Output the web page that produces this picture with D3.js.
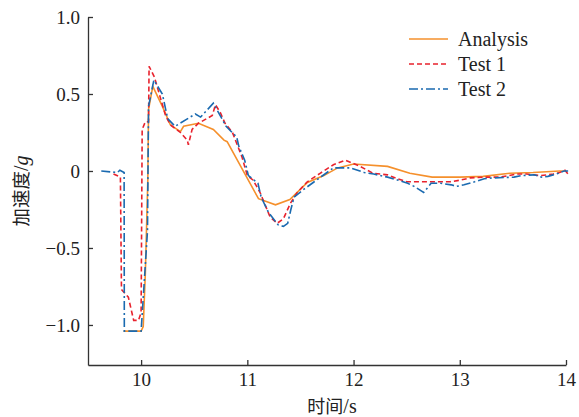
<!DOCTYPE html>
<html>
<head>
<meta charset="utf-8">
<script src="https://cdn.jsdelivr.net/npm/d3@7"></script>
<style>
  body { margin: 0; background: #fff; }
  text { font-family: "Liberation Serif", "Times New Roman", serif; fill: #222; }
  .cjk { font-family: "Noto Sans CJK SC", sans-serif; }
</style>
</head>
<body>
<svg width="579" height="417"></svg>
<script>
var svg = d3.select("svg");

// series: [time (s), acceleration (g)]
var analysis = [
  [9.835,-1.04],[10.0,-1.04],[10.02,-1.01],[10.04,-0.66],[10.055,-0.27],[10.063,-0.06],
  [10.07,0.40],[10.11,0.55],[10.20,0.42],[10.275,0.30],[10.37,0.255],[10.40,0.29],
  [10.54,0.31],[10.68,0.27],[10.78,0.20],[10.81,0.19],[11.105,-0.18],[11.265,-0.22],
  [11.40,-0.185],[11.565,-0.075],[11.72,-0.03],[11.85,0.02],[12.0,0.045],[12.32,0.03],
  [12.53,-0.015],[12.74,-0.04],[13.0,-0.04],[13.22,-0.035],[13.47,-0.015],[13.69,-0.01],
  [13.94,0.0],[13.99,0.0]
];
var test1 = [
  [9.74,-0.02],[9.805,-0.04],[9.815,-0.77],[9.88,-0.82],[9.93,-0.97],[9.975,-0.97],
  [10.0,-0.92],[10.01,0.27],[10.04,0.32],[10.07,0.32],[10.075,0.68],[10.125,0.61],
  [10.23,0.36],[10.275,0.30],[10.37,0.25],[10.435,0.20],[10.445,0.17],[10.48,0.27],
  [10.54,0.31],[10.67,0.36],[10.70,0.43],[10.745,0.38],[10.79,0.31],[10.86,0.25],
  [10.95,0.09],[11.0,-0.03],[11.055,-0.06],[11.12,-0.14],[11.215,-0.30],[11.28,-0.34],
  [11.34,-0.31],[11.405,-0.21],[11.47,-0.14],[11.565,-0.07],[11.685,-0.015],[11.81,0.04],
  [11.92,0.07],[11.995,0.05],[12.06,0.03],[12.185,-0.015],[12.32,-0.025],[12.41,-0.05],
  [12.505,-0.07],[12.75,-0.07],[12.91,-0.07],[13.0,-0.06],[13.1,-0.045],[13.22,-0.04],
  [13.38,-0.04],[13.54,-0.02],[13.63,-0.02],[13.76,-0.03],[13.88,-0.02],[13.94,-0.01],
  [13.99,0.005],[14.02,-0.02]
];
var test2 = [
  [9.625,0],[9.777,-0.01],[9.80,0.005],[9.84,-0.01],[9.842,-1.04],[10.0,-1.04],
  [10.06,-0.39],[10.07,0.42],[10.12,0.59],[10.20,0.50],[10.25,0.34],[10.32,0.29],
  [10.51,0.37],[10.56,0.35],[10.68,0.44],[10.80,0.29],[10.90,0.22],[10.92,0.16],
  [10.975,0.07],[11.01,-0.03],[11.10,-0.08],[11.13,-0.17],[11.20,-0.27],[11.29,-0.35],
  [11.34,-0.36],[11.38,-0.34],[11.41,-0.25],[11.44,-0.17],[11.53,-0.12],[11.63,-0.07],
  [11.81,0.02],[11.97,0.02],[12.10,-0.01],[12.19,-0.02],[12.32,-0.04],[12.42,-0.06],
  [12.51,-0.08],[12.57,-0.10],[12.66,-0.14],[12.73,-0.08],[12.82,-0.08],[12.92,-0.09],
  [12.97,-0.10],[13.04,-0.09],[13.14,-0.07],[13.23,-0.05],[13.32,-0.045],[13.51,-0.04],
  [13.58,-0.03],[13.70,-0.025],[13.77,-0.04],[13.83,-0.035],[13.93,-0.015],[13.98,0],
  [14.02,0]
];

var xTicks = [10, 11, 12, 13, 14];
var yTicks = [1.0, 0.5, 0, -0.5, -1.0];
var names = ["Analysis", "Test 1", "Test 2"];

var series = [
  { name: names[0], data: analysis, color: "#f5902c", dash: null },
  { name: names[1], data: test1, color: "#e8222d", dash: "5,3" },
  { name: names[2], data: test2, color: "#1a6ab0", dash: "9,3,2,3" }
];

// plot box (avoid "top", it is window.top)
var plotL = 88, plotR = 566, plotT = 17, plotB = 365;
var fs = 19;

var x = d3.scaleLinear().domain([9.5, 14]).range([plotL, plotR]);
var y = d3.scaleLinear().domain([-1.26, 1.0]).range([plotB, plotT]);

function fmt(d) {
  if (d === 0) return "0";
  return (d < 0 ? "\u2212" : "") + Math.abs(d).toFixed(1);
}

var line = d3.line()
  .x(function(d) { return x(d[0]); })
  .y(function(d) { return y(d[1]); });

svg.append("g")
  .selectAll("path")
  .data(series)
  .enter().append("path")
    .attr("d", function(d) { return line(d.data); })
    .attr("fill", "none")
    .attr("stroke", function(d) { return d.color; })
    .attr("stroke-width", 1.6)
    .attr("stroke-dasharray", function(d) { return d.dash; });

// axes, ticks point inward
var xAxis = svg.append("g")
  .attr("transform", "translate(0," + plotB + ")")
  .call(d3.axisBottom(x).tickValues(xTicks).tickSize(-5).tickPadding(8).tickSizeOuter(0).tickFormat(d3.format("d")));

var yAxis = svg.append("g")
  .attr("transform", "translate(" + plotL + ",0)")
  .call(d3.axisLeft(y).tickValues(yTicks).tickSize(-5).tickPadding(8).tickSizeOuter(0).tickFormat(fmt));

[xAxis, yAxis].forEach(function(a) {
  a.select(".domain").attr("stroke", "#333").attr("stroke-width", 1.3);
  a.selectAll(".tick line").attr("stroke", "#333").attr("stroke-width", 1.3);
  a.selectAll(".tick text")
    .attr("font-family", "Liberation Serif, serif")
    .attr("font-size", fs)
    .attr("fill", "#222");
});

// axis titles
svg.append("text")
  .attr("x", 332)
  .attr("y", 413)
  .attr("text-anchor", "middle")
  .attr("font-size", 20)
  .html('<tspan class="cjk" font-size="18">时间</tspan>/s');

svg.append("text")
  .attr("transform", "translate(28,191) rotate(-90)")
  .attr("text-anchor", "middle")
  .attr("font-size", 20)
  .html('<tspan class="cjk" font-size="18.5">加速度</tspan>/<tspan font-style="italic">g</tspan>');

// legend
var legend = svg.append("g")
  .selectAll("g")
  .data(series)
  .enter().append("g")
    .attr("transform", function(d, i) { return "translate(409," + (39 + i * 25) + ")"; });

legend.append("line")
  .attr("x1", 0).attr("x2", 39)
  .attr("stroke", function(d) { return d.color; })
  .attr("stroke-width", 1.6)
  .attr("stroke-dasharray", function(d) { return d.dash; });

legend.append("text")
  .attr("x", 49)
  .attr("dy", "0.35em")
  .attr("font-size", 20)
  .text(function(d) { return d.name; });
</script>
</body>
</html>
